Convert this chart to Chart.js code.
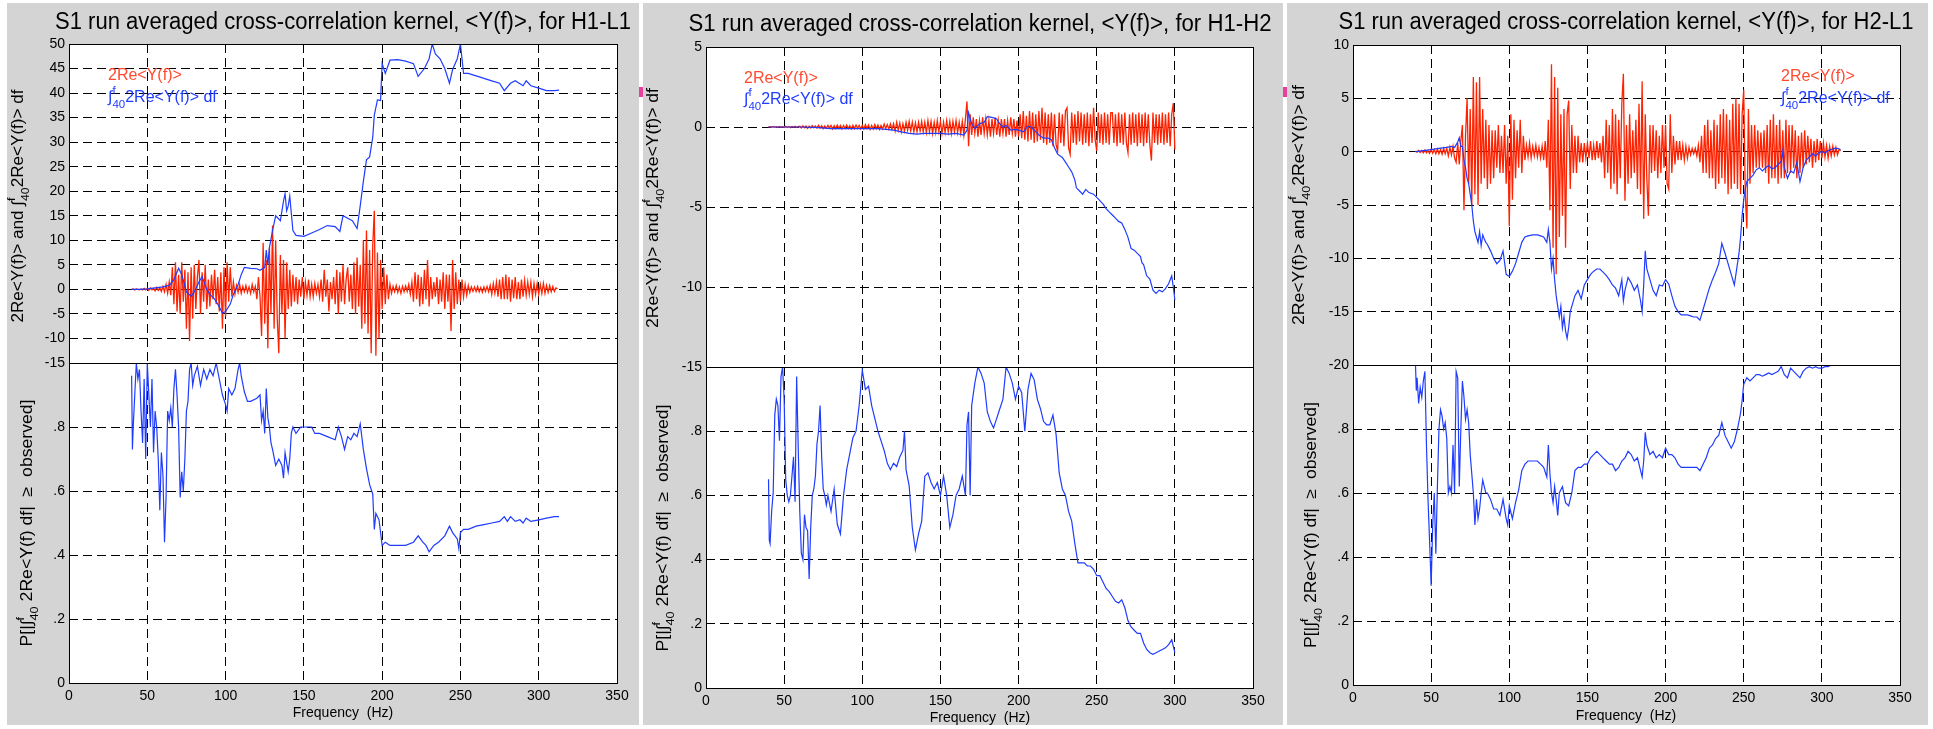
<!DOCTYPE html>
<html>
<head>
<meta charset="utf-8">
<script src="https://cdn.jsdelivr.net/npm/chart.js@4.4.1/dist/chart.umd.min.js"></script>
<style>
  html, body { margin: 0; padding: 0; background: #fff; }
  body { width: 1933px; height: 729px; position: relative; overflow: hidden; }
  .panel { position: absolute; top: 3px; height: 722px; background: #d4d4d4; }
  .mark { position: absolute; top: 87px; width: 4px; height: 10px; background: #e8409c; }
  canvas { position: absolute; left: 0; top: 0; }
</style>
</head>
<body>
<div class="panel" style="left:7px;width:632px"></div>
<div class="panel" style="left:643px;width:640px"></div>
<div class="panel" style="left:1287px;width:641px"></div>
<div class="mark" style="left:639px"></div>
<div class="mark" style="left:1283px"></div>
<script>
// ---- axes ----
const freqTicks = [0, 50, 100, 150, 200, 250, 300, 350];
const probTicks = [0, 0.2, 0.4, 0.6, 0.8, 1];
const probTickLabels = ['0', '.2', '.4', '.6', '.8', ''];
const h1l1Ticks = [-15, -10, -5, 0, 5, 10, 15, 20, 25, 30, 35, 40, 45, 50];
const h1h2Ticks = [-15, -10, -5, 0, 5];
const h2l1Ticks = [-20, -15, -10, -5, 0, 5, 10];
const pairNames = ['H1-L1', 'H1-H2', 'H2-L1'];
const redStartHz = 40;

// ---- H1-L1 ----
const h1l1Red = [
  0, 0.1, -0.1, 0.1, 0, -0.1, 0.1, -0.1, 0.2, -0.1,
  0.2, -0.2, 0.3, -0.1, 0.2, -0.3, 0.4, -0.2, 0.3, -0.4,
  0.6, -0.5, 1, -0.8, 1.5, -1.2, 4.5, -3, 5.5, -4.5,
  3, -5, 5.5, -2.5, 4, -8, 3.5, -10.5, 4.5, -6,
  5, -4, 2.5, 6, -5, 3.5, -2.5, 5, -4, 2,
  -3.5, 3, -2, 4, -3, 2.5, -4.5, 3.5, -8, 4.5,
  -5.5, 5.5, -2.5, 4.5, -1.5, 1.5, -1, 0.8, -0.6, 1,
  -0.8, 0.6, -0.5, 0.8, -0.6, 0.5, -0.8, 1, -0.5, 0.6,
  -2, 2.5, -1.5, -9.5, 9.5, -7, 6, -12, 8.5, -5,
  13, -8, 10, -6, -13, 7, -5, 6, -10, 5.5,
  -4, 4, -3.5, 3, -2.5, 2.5, -3, 2, -1.5, 2.5,
  -2, 1.5, -1.2, 2, -1.5, 1, -1.5, 1.2, -0.8, 1,
  -1.5, 2, -2.5, 4, -1.5, 2, -4.5, 1.5, -2, 2.5,
  -3, 4, -5, 3.5, -2.5, 5, -3, 2, 4.5, -2.5,
  3, -4, 5.5, -5, 6.5, -3.5, 5, -8, 10, -7,
  12, -9, 8, -13, 9, 16, -13.5, 7.5, -10, 6,
  -4, 4.5, -3, 3, -2, 1, -0.8, 0.6, -0.5, 0.8,
  -0.6, 0.5, -0.8, 0.6, -0.5, 0.7, -0.4, 1, -1, 1.5,
  -2.5, 3.5, -2, 3, -3.5, 2.5, -3, 4, -2, 6,
  -3.5, 2.5, -2, 1.5, -1.5, 2.5, -3, 2, -2.5, 3.5,
  -4, 3, -2.5, 3, -8.5, 6, -4, 3.5, -3, 2,
  -2.5, 2, -1.5, 1, -1.2, 0.8, -0.6, 0.5, -0.4, 0.5,
  -0.4, 0.6, -0.5, 0.4, -0.6, 0.5, -0.4, 0.6, -0.5, 0.8,
  -1, 1.2, -0.8, 1.5, -1.5, 2, -2, 2.5, -2, 3,
  -2, 2.5, -2.5, 2, -1.8, 2.5, -2, 1.5, -2, 2,
  -1.5, 1.8, -1.2, 1.5, -1, 1.5, -1.5, 1.2, -1, 1.2,
  -1, 1, -0.8, 1.2, -0.8, 0.8, -0.6, 0.8, -0.5, 0.6,
  -0.4, 0.3, 0.1
];
const h1l1Integral = [
  [40, 0], [45, 0], [50, 0.1], [55, 0.3], [60, 0.5], [64, 0.8], [67, 2], [70, 4.3], [72, 3], [75, -0.5],
  [78, -1.4], [80, -0.5], [83, 1.5], [85, 2.6], [88, 0], [90, -1], [93, -2], [95, -3], [98, -4.8], [100, -4.5],
  [103, -3], [105, -1], [108, 1], [110, 3], [112, 4.5], [116, 4.3], [120, 4.2], [122, 3.9], [125, 4.5], [126, 8],
  [127, 5], [128, 8.5], [130, 12], [132, 15], [135, 14], [137, 18], [138, 19.5], [139, 16], [140, 17], [141, 19],
  [143, 12], [145, 11], [150, 10.8], [155, 11.5], [160, 12.2], [165, 13], [170, 12.8], [173, 11.8], [175, 15], [178, 14.5],
  [181, 14], [184, 12.4], [186, 17], [188, 22], [190, 26.4], [192, 27], [194, 31], [195, 35.5], [197, 38.6], [199, 38.5],
  [200, 46], [202, 44], [205, 46.7], [210, 46.8], [215, 46.5], [220, 46], [223, 43.4], [227, 45], [230, 47], [232, 50],
  [234, 48], [237, 47], [240, 45], [243, 42], [245, 44.8], [248, 47], [250, 50], [252, 44], [255, 44], [260, 43.5],
  [265, 43], [270, 42.5], [275, 42], [278, 40.5], [282, 42], [285, 42.5], [290, 41.5], [292, 42.5], [295, 41.5], [300, 41],
  [305, 40.5], [310, 40.5], [313, 40.6]
];
const h1l1Prob = [
  [40, 0.96], [40.5, 0.73], [41, 0.8], [42, 0.9], [43, 1], [44, 0.95], [45, 0.98], [46, 0.85], [47, 0.75], [48, 0.95],
  [49, 0.7], [50, 1], [51, 0.9], [52, 0.8], [53, 0.95], [54, 0.72], [55, 0.85], [56, 0.8], [57, 0.7], [58, 0.54],
  [59, 0.72], [60, 0.65], [61, 0.44], [62, 0.58], [63, 0.85], [64, 0.82], [65, 0.86], [66, 0.8], [67, 0.92], [68, 0.98],
  [69, 0.9], [70, 0.8], [71, 0.58], [72, 0.66], [73, 0.6], [74, 0.7], [75, 0.85], [76, 0.88], [77, 0.98], [78, 1],
  [79, 0.93], [80, 0.96], [82, 0.99], [84, 0.93], [86, 0.98], [88, 0.95], [90, 0.98], [92, 0.96], [94, 1], [96, 0.95],
  [98, 0.9], [100, 0.87], [101, 0.85], [102, 0.92], [104, 0.9], [106, 0.92], [108, 0.98], [109, 1], [110, 0.96], [112, 0.91],
  [114, 0.88], [116, 0.88], [120, 0.89], [122, 0.9], [123, 0.82], [124, 0.85], [125, 0.78], [126, 0.92], [127, 0.83], [128, 0.8],
  [129, 0.75], [130, 0.73], [132, 0.68], [134, 0.7], [136, 0.68], [137, 0.64], [138, 0.72], [140, 0.66], [141, 0.7], [142, 0.78],
  [143, 0.8], [145, 0.78], [148, 0.8], [150, 0.8], [155, 0.8], [157, 0.78], [160, 0.78], [165, 0.77], [170, 0.76], [172, 0.8],
  [174, 0.77], [176, 0.73], [178, 0.77], [180, 0.76], [182, 0.78], [184, 0.77], [186, 0.81], [188, 0.73], [190, 0.67], [192, 0.62],
  [194, 0.59], [195, 0.48], [196, 0.53], [198, 0.51], [200, 0.43], [202, 0.44], [205, 0.43], [210, 0.43], [215, 0.43], [220, 0.44],
  [223, 0.46], [226, 0.44], [228, 0.43], [230, 0.41], [233, 0.43], [236, 0.44], [240, 0.46], [243, 0.49], [245, 0.47], [248, 0.45],
  [249, 0.42], [250, 0.47], [252, 0.48], [255, 0.48], [260, 0.49], [265, 0.495], [270, 0.5], [275, 0.505], [278, 0.52], [280, 0.505],
  [282, 0.52], [285, 0.505], [288, 0.51], [290, 0.5], [292, 0.515], [295, 0.505], [300, 0.51], [305, 0.515], [310, 0.52], [313, 0.52]
];

// ---- H1-H2 ----
const h1h2Red = [
  0, 0.02, -0.02, 0.03, -0.02, 0.02, -0.03, 0.03, -0.02, 0.02,
  -0.03, 0.04, -0.03, 0.03, -0.04, 0.03, -0.02, 0.04, -0.03, 0.03,
  0.05, -0.06, 0.07, -0.05, 0.06, -0.08, 0.05, -0.06, 0.08, -0.05,
  0.06, -0.07, 0.1, -0.06, 0.08, -0.1, 0.06, -0.08, 0.1, -0.07,
  0.1, -0.12, 0.08, -0.1, 0.12, -0.08, 0.1, -0.12, 0.1, -0.08,
  0.12, -0.1, 0.08, -0.12, 0.1, -0.1, 0.12, -0.08, 0.1, -0.12,
  0.1, -0.12, 0.15, -0.1, 0.12, -0.15, 0.1, -0.12, 0.15, -0.1,
  0.12, -0.15, 0.1, -0.12, 0.18, -0.1, 0.15, -0.12, 0.2, -0.15,
  0.2, -0.25, 0.3, -0.2, 0.25, -0.3, 0.2, -0.25, 0.3, -0.2,
  0.35, -0.25, 0.3, -0.3, 0.25, -0.3, 0.3, -0.25, 0.35, -0.3,
  0.3, -0.35, 0.4, -0.3, 0.35, -0.4, 0.3, -0.35, 0.4, -0.3,
  0.35, -0.4, 0.3, -0.35, 0.4, -0.3, 0.35, -0.4, 0.35, -0.3,
  0.4, -0.35, 0.3, -0.4, 0.35, -0.5, 0.5, 1.6, -1.2, 0.8,
  -0.5, 0.6, -0.4, 0.5, -0.6, 0.4, -0.5, 0.6, -0.4, 0.5,
  -0.5, 0.4, -0.6, 0.5, -0.4, 0.6, -0.5, 0.4, -0.6, 0.5,
  -0.4, 0.5, -0.6, 0.4, -0.5, 0.6, -0.4, 0.5, -0.6, 0.4,
  -0.6, 0.8, -0.7, 1, -0.8, 0.7, -0.9, 1, -0.8, 0.9,
  -1, 0.8, -0.9, 1, -0.8, 1.2, -1, 0.9, -1.1, 0.8,
  -1, 0.9, -1.2, 0.8, -1.1, -1.5, 0.9, -1, 0.8, -1.2,
  1, 1.2, -1.3, -1.7, 0.9, -1, 0.8, -1.1, 1, -0.9,
  0.9, -1.1, 0.8, -1, 0.9, -1.2, 0.8, -1, 1.2, -0.8,
  -1.5, 0.9, -1, 0.8, -1.1, 0.9, -1, 0.8, -1.1, 0.9,
  0.9, -1, 0.8, -1.2, 0.9, -1, 0.8, -1.1, 0.9, -1,
  -1.6, 0.8, -1.1, 0.9, -1, 0.8, -1.2, 0.9, -1, 0.8,
  -1.2, 0.9, -1, 0.8, -1.1, -2.1, 0.9, -1, 0.8, -1.1,
  0.8, -1, 0.9, -1.1, 0.8, -1, 0.9, -1.2, 0.8, 1.5,
  -1.4
];
const h1h2Integral = [
  [40, 0], [50, 0], [60, 0], [70, -0.02], [80, -0.1], [90, -0.1], [100, -0.1], [110, -0.1], [120, -0.2], [125, -0.3],
  [130, -0.4], [135, -0.45], [140, -0.4], [145, -0.4], [150, -0.4], [155, -0.45], [160, -0.4], [165, -0.5], [167, -0.2], [168, 0.9],
  [170, 0.2], [172, -0.1], [175, 0.2], [178, 0.3], [180, 0.65], [183, 0.6], [186, 0.5], [188, 0.2], [190, 0], [192, 0.1],
  [195, -0.2], [198, -0.15], [200, -0.2], [203, -0.3], [206, 0.05], [208, 0], [210, -0.2], [213, -0.5], [216, -0.7], [219, -0.7],
  [221, -0.8], [223, -1.3], [225, -1.7], [228, -1.9], [230, -2.2], [232, -2.5], [234, -2.8], [236, -3.3], [237, -3.8], [239, -4],
  [241, -4.2], [243, -3.9], [245, -4.1], [248, -4.2], [250, -4.4], [252, -4.6], [254, -4.8], [256, -5.1], [258, -5.3], [260, -5.5],
  [262, -5.7], [264, -5.9], [266, -6], [268, -6.4], [270, -6.9], [272, -7.6], [274, -7.7], [276, -7.9], [278, -8.1], [279, -8.5],
  [280, -8.6], [282, -9.3], [284, -9.5], [286, -10.2], [288, -10.4], [290, -10.2], [292, -10.3], [294, -10.1], [296, -9.8], [298, -9.3],
  [299, -10], [300, -10.8]
];
const h1h2Prob = [
  [40, 0.65], [40.5, 0.46], [41, 0.45], [42, 0.55], [43, 0.61], [44, 0.85], [45, 0.9], [46, 0.88], [47, 0.77], [48, 0.97],
  [49, 1], [50, 0.9], [51, 0.65], [52, 0.6], [53, 0.58], [54, 0.6], [55, 0.66], [56, 0.72], [57, 0.58], [58, 0.97],
  [59, 0.75], [60, 0.55], [61, 0.42], [62, 0.4], [63, 0.54], [64, 0.5], [65, 0.49], [66, 0.34], [67, 0.5], [68, 0.6],
  [69, 0.62], [70, 0.66], [71, 0.76], [72, 0.8], [73, 0.88], [74, 0.72], [75, 0.62], [76, 0.6], [77, 0.57], [78, 0.6],
  [80, 0.55], [82, 0.62], [84, 0.51], [86, 0.48], [88, 0.6], [90, 0.68], [92, 0.73], [94, 0.78], [96, 0.8], [98, 0.88],
  [100, 0.99], [102, 0.93], [104, 0.94], [106, 0.88], [108, 0.84], [110, 0.8], [112, 0.77], [114, 0.74], [116, 0.7], [118, 0.68],
  [120, 0.7], [122, 0.69], [124, 0.72], [126, 0.74], [127, 0.8], [128, 0.68], [130, 0.63], [132, 0.5], [134, 0.43], [136, 0.48],
  [138, 0.52], [140, 0.66], [142, 0.67], [144, 0.64], [146, 0.62], [148, 0.64], [150, 0.6], [152, 0.66], [154, 0.6], [156, 0.5],
  [158, 0.54], [160, 0.6], [162, 0.62], [164, 0.66], [166, 0.6], [167, 0.82], [168, 0.86], [169, 0.6], [170, 0.88], [172, 0.95],
  [174, 1], [176, 0.98], [178, 0.95], [180, 0.86], [182, 0.83], [184, 0.81], [186, 0.84], [188, 0.87], [190, 0.9], [192, 1],
  [194, 0.98], [196, 0.95], [198, 0.9], [200, 0.94], [202, 0.92], [204, 0.8], [206, 0.93], [208, 0.98], [210, 0.96], [212, 0.9],
  [214, 0.87], [216, 0.83], [218, 0.82], [220, 0.82], [222, 0.85], [224, 0.79], [226, 0.67], [228, 0.62], [230, 0.6], [232, 0.55],
  [234, 0.52], [236, 0.45], [238, 0.39], [240, 0.39], [242, 0.39], [244, 0.38], [246, 0.38], [248, 0.37], [250, 0.35], [252, 0.35],
  [254, 0.33], [256, 0.31], [258, 0.3], [260, 0.285], [262, 0.27], [264, 0.265], [266, 0.275], [268, 0.25], [270, 0.21], [272, 0.19],
  [274, 0.18], [276, 0.17], [278, 0.17], [280, 0.14], [282, 0.12], [284, 0.11], [286, 0.105], [288, 0.11], [290, 0.115], [292, 0.12],
  [294, 0.125], [296, 0.135], [298, 0.15], [300, 0.11]
];

// ---- H2-L1 ----
const h2l1Red = [
  0.05, -0.05, 0.1, -0.08, 0.1, -0.1, 0.15, -0.1, 0.1, -0.15,
  0.2, -0.15, 0.2, -0.2, 0.25, -0.2, 0.2, -0.25, 0.3, -0.2,
  0.3, -0.4, 0.4, -0.3, 0.5, -0.6, -1, 0.8, -1.2, 1,
  2.5, -5.5, 1.5, 5, -3, 4, -5, 7, -4, 6.5,
  -5, 7, -3, 4, -2.5, 3, -3.5, 2.5, -3, 2,
  -2.5, 2, -1.5, 2.5, -2, 1.5, -2, 2.5, -3, 1.5,
  -7, 3.5, -4.5, 3, -2.5, 2, -1.5, 3, -2, 1.5,
  -0.8, 0.6, -0.5, 0.8, -0.6, 0.5, -0.4, 0.6, -0.5, 0.4,
  -0.6, 0.5, -0.8, 1, -1.5, 3, -5.5, 8.2, -9, 7,
  -11.5, 6, -8, 3.5, -6, 4, -9, 3.5, 4.8, -3.5,
  2.5, -2, 1.5, -2, 1.5, -1, 0.8, -1, 0.8, -0.6,
  0.8, -0.6, 1, -0.8, 0.6, -0.8, 1, -0.6, 0.8, -1,
  1.5, -2.5, 3, -2, 2.5, -3.5, 4, -3, 3.5, -4,
  3, -2.5, 4.5, 7.3, -4.6, 2.5, -3, 3.5, -2.5, 2,
  -2, 3, -3.5, 4.5, -4, 6.6, -6.3, 3.5, -2.5, -6,
  2.5, -2, 2.5, -1.8, 2, -2.5, 1.5, -2, 2.5, -1.5,
  2.5, -3, -3.5, 3.5, -2, 1.5, -1.2, 1, -0.8, 1,
  -0.8, 0.6, -0.8, 0.5, -0.6, 0.4, -0.3, 0.3, -0.2, 0.3,
  -0.4, 0.6, -1, 1.5, -2, 2.5, -2, 3, -2.5, 2,
  -2.5, 3, -3.5, 2.5, -3, 3.5, -2.5, 4, -3, 3.5,
  -4, 3, -3.5, 4.5, -3, 5, -3.5, 4.5, -4, 3.5,
  5.8, -4, -7.2, 4, -3, 2.5, -2, 2.5, -1.5, 2,
  -1.5, 1.8, -1.5, 2, -2, 2.5, -3, 3, -2.5, 3.5,
  -2.5, 2.5, -3, 3, -2.5, 2, -2.5, 3, -2, 2.5,
  -2, 2.5, -1.5, 2, -2.5, 1.5, -2, 1.8, -1.5, 2,
  -1.2, 1.5, -1, 1.2, -1.5, 1, -1, 1.2, -0.8, 1,
  -0.6, 0.8, -0.5, 0.6, -0.6, 0.5, -0.4, 0.5, -0.3, 0.4,
  -0.3, 0.2, 0.1
];
const h2l1Integral = [
  [40, 0], [45, 0.1], [50, 0.2], [55, 0.3], [60, 0.4], [63, 0.5], [65, 0.4], [67, 0.9], [68, 1.3], [69, 0.5],
  [70, 0.5], [71, -0.8], [72, -1.5], [73, -2.5], [74, -3], [75, -4], [76, -5], [77, -6.5], [78, -7.5], [79, -8],
  [80, -8.5], [81, -7.5], [82, -8.8], [83, -7.8], [84, -8.2], [85, -8.5], [86, -8.7], [88, -9.3], [90, -10], [92, -10.5],
  [94, -10.2], [96, -9.3], [98, -11.5], [100, -11.7], [102, -11.2], [104, -10.5], [106, -9.5], [108, -8.5], [110, -8], [112, -7.9],
  [115, -7.8], [118, -7.8], [120, -7.9], [122, -8], [124, -8.5], [125, -7.3], [126, -8.5], [127, -11], [128, -10], [129, -12],
  [130, -13.5], [131, -14.5], [132, -15.5], [133, -14.5], [134, -16.5], [135, -15.5], [136, -16.8], [137, -17.5], [138, -16.5], [139, -15],
  [140, -14.5], [142, -13.5], [144, -13], [146, -13.8], [148, -12.5], [150, -12], [152, -11.5], [154, -11.2], [156, -11], [158, -11],
  [160, -11.3], [162, -11.6], [164, -12], [166, -12.5], [168, -12.8], [170, -13.5], [172, -12], [173, -14], [174, -13], [176, -11.8],
  [178, -12.3], [180, -13], [182, -12.5], [184, -14], [185, -15], [186, -12.5], [187, -9.3], [188, -11], [190, -12], [192, -13],
  [194, -13.5], [196, -12.5], [198, -12.6], [200, -12], [202, -12.4], [204, -13.5], [206, -14.5], [208, -15], [210, -15.3], [212, -15.3],
  [214, -15.3], [216, -15.4], [218, -15.5], [220, -15.5], [222, -15.8], [224, -14.8], [226, -13.8], [228, -12.8], [230, -12], [232, -11.3],
  [234, -10.5], [236, -8.6], [238, -9.5], [240, -10.5], [242, -11.5], [244, -12.5], [245, -11.5], [246, -10.5], [247, -9.5], [248, -8],
  [249, -6], [250, -4.5], [251, -3.5], [252, -2.8], [254, -2.5], [256, -2.2], [258, -1.7], [260, -1.5], [262, -1.8], [264, -1.5],
  [266, -1.3], [268, -1.6], [270, -1.5], [272, -1.2], [274, -0.9], [275, 0], [276, -1.5], [278, -2.5], [280, -1.8], [282, -2],
  [284, -1], [286, -2.8], [288, -1.5], [290, -0.8], [292, -0.5], [294, -0.2], [296, -0.4], [298, -0.1], [300, 0], [302, -0.1],
  [304, 0.1], [306, 0.2], [308, 0.3], [310, 0.3], [312, 0.2]
];
const h2l1Prob = [
  [40, 1], [40.5, 0.92], [41, 0.96], [42, 0.88], [43, 0.93], [44, 0.9], [45, 0.95], [46, 0.98], [47, 0.75], [48, 0.58],
  [49, 0.45], [50, 0.31], [51, 0.5], [52, 0.6], [53, 0.41], [54, 0.62], [55, 0.8], [56, 0.86], [57, 0.84], [58, 0.8],
  [59, 0.82], [60, 0.77], [61, 0.6], [62, 0.62], [63, 0.6], [64, 0.75], [65, 0.6], [66, 0.98], [67, 0.96], [68, 0.62],
  [69, 0.8], [70, 0.95], [71, 0.9], [72, 0.83], [73, 0.86], [74, 0.82], [75, 0.72], [76, 0.66], [77, 0.6], [78, 0.5],
  [79, 0.58], [80, 0.52], [81, 0.55], [82, 0.6], [83, 0.64], [84, 0.62], [85, 0.6], [86, 0.6], [88, 0.58], [90, 0.55],
  [92, 0.55], [94, 0.53], [96, 0.58], [98, 0.52], [99, 0.5], [100, 0.56], [102, 0.52], [104, 0.57], [106, 0.61], [108, 0.67],
  [110, 0.69], [112, 0.7], [115, 0.7], [118, 0.7], [120, 0.69], [122, 0.68], [124, 0.65], [125, 0.75], [126, 0.66], [127, 0.6],
  [128, 0.57], [129, 0.62], [130, 0.58], [131, 0.53], [132, 0.6], [134, 0.62], [136, 0.57], [138, 0.56], [140, 0.6], [142, 0.67],
  [144, 0.68], [146, 0.68], [148, 0.69], [150, 0.69], [152, 0.71], [154, 0.72], [156, 0.73], [158, 0.72], [160, 0.71], [162, 0.7],
  [164, 0.69], [166, 0.69], [168, 0.67], [170, 0.68], [172, 0.7], [174, 0.71], [176, 0.73], [178, 0.72], [180, 0.7], [182, 0.71],
  [184, 0.67], [185, 0.65], [186, 0.7], [187, 0.79], [188, 0.75], [190, 0.72], [192, 0.73], [194, 0.71], [196, 0.72], [198, 0.71],
  [200, 0.74], [202, 0.72], [204, 0.72], [206, 0.71], [208, 0.69], [210, 0.68], [215, 0.68], [220, 0.68], [222, 0.67], [224, 0.69],
  [226, 0.71], [228, 0.74], [230, 0.75], [232, 0.77], [234, 0.78], [236, 0.82], [238, 0.78], [240, 0.76], [242, 0.74], [244, 0.76],
  [246, 0.8], [248, 0.85], [249, 0.89], [250, 0.94], [252, 0.96], [254, 0.95], [256, 0.96], [258, 0.97], [260, 0.97], [262, 0.965],
  [264, 0.97], [266, 0.975], [268, 0.97], [270, 0.975], [272, 0.98], [274, 0.995], [276, 0.97], [278, 0.96], [280, 0.99], [282, 0.98],
  [284, 0.97], [286, 0.96], [288, 0.98], [290, 0.99], [292, 0.995], [294, 0.99], [296, 0.995], [298, 0.99], [300, 0.99], [302, 0.995],
  [304, 0.995], [306, 1], [310, 1], [312, 1]
];

// ---- look ----
const W = 1933, H = 729;
const FAMILY = "'Liberation Sans', Arial, Helvetica, sans-serif";
const RED = '#ff2200', BLUE = '#1f3cff', LEG_RED = '#ff4a30';
const GRID_DASH = [9, 5];
const Y_AXIS_W = 44, X_AXIS_H = 30;

// where each panel's two axes boxes sit (pixels)
const layouts = [
  { L: 69, R: 617, T: 44, M: 363, B: 683, title: { x: 343, y: 23, w: 576 }, xTitle: { x: 343, y: 713 },
    upT: { x: 19, y: 206, len: 233 }, loT: { x: 28, y: 523, len: 247 }, leg: { x: 108, y1: 76, y2: 98 } },
  { L: 706, R: 1253, T: 47, M: 367, B: 688, title: { x: 980, y: 25, w: 583 }, xTitle: { x: 980, y: 718 },
    upT: { x: 654, y: 208, len: 240 }, loT: { x: 664, y: 528, len: 247 }, leg: { x: 744, y1: 79, y2: 100 } },
  { L: 1353, R: 1900, T: 45, M: 365, B: 685, title: { x: 1626, y: 23, w: 575 }, xTitle: { x: 1626, y: 716 },
    upT: { x: 1300, y: 205, len: 240 }, loT: { x: 1312, y: 525, len: 246 }, leg: { x: 1781, y1: 77, y2: 99 } },
];

const upperTitle = [['2Re<Y(f)> and \u222B'], ['f', '40'], ['2Re<Y(f)> df']];
const lowerTitle = [['P[|\u222B'], ['f', '40'], [' 2Re<Y(f) df|  \u2265  observed]']];
const legendRed = [['2Re<Y(f)>']];
const legendBlue = [['\u222B'], ['f', '40'], ['2Re<Y(f)> df']];

const font = (s) => `${s}px ${FAMILY}`;

// text with stacked super/subscript pieces: one-element part = plain, two-element = [sup, sub]
function richText(ctx, parts, o) {
  const small = o.size * 0.72;
  const widths = parts.map((p) => {
    if (p.length === 1) { ctx.font = font(o.size); return ctx.measureText(p[0]).width; }
    ctx.font = font(small);
    return Math.max(ctx.measureText(p[0]).width, ctx.measureText(p[1]).width);
  });
  const total = widths.reduce((a, b) => a + b, 0);
  ctx.save();
  ctx.translate(o.x, o.y);
  if (o.rotate) ctx.rotate(-Math.PI / 2);
  const sx = o.len ? o.len / total : 1;
  ctx.scale(sx, 1);
  ctx.fillStyle = o.color || '#000';
  ctx.textBaseline = 'middle';
  ctx.textAlign = 'left';
  let x = o.align === 'left' ? 0 : -total / 2;
  parts.forEach((p, i) => {
    if (p.length === 1) {
      ctx.font = font(o.size);
      ctx.fillText(p[0], x, 0);
    } else {
      ctx.font = font(small);
      ctx.fillText(p[0], x, -o.size * 0.42);
      ctx.fillText(p[1], x, o.size * 0.4);
    }
    x += widths[i];
  });
  ctx.restore();
}

const deco = {
  id: 'deco',
  beforeDraw(chart) {
    const { ctx, chartArea: a } = chart;
    ctx.save();
    ctx.fillStyle = '#fff';
    ctx.fillRect(a.left, a.top, a.right - a.left, a.bottom - a.top);
    ctx.restore();
  },
  afterDraw(chart, args, o) {
    const { ctx, chartArea: a } = chart;
    ctx.save();
    ctx.strokeStyle = '#000';
    ctx.lineWidth = 1;
    ctx.strokeRect(Math.round(a.left) + 0.5, Math.round(a.top) + 0.5, Math.round(a.right - a.left), Math.round(a.bottom - a.top));
    ctx.restore();
    const lay = o.lay;
    if (o.part === 'upper') {
      ctx.save();
      ctx.font = font(23);
      const txt = `S1 run averaged cross-correlation kernel, <Y(f)>, for ${o.pair}`;
      const w = ctx.measureText(txt).width;
      ctx.translate(lay.title.x, lay.title.y);
      ctx.scale(lay.title.w / w, 1);
      ctx.fillStyle = '#000';
      ctx.textAlign = 'center';
      ctx.textBaseline = 'middle';
      ctx.fillText(txt, 0, 0);
      ctx.restore();
      richText(ctx, upperTitle, { x: lay.upT.x, y: lay.upT.y, size: 16, rotate: true, len: lay.upT.len });
      richText(ctx, legendRed, { x: lay.leg.x, y: lay.leg.y1, size: 16, align: 'left', color: LEG_RED });
      richText(ctx, legendBlue, { x: lay.leg.x, y: lay.leg.y2, size: 16, align: 'left', color: BLUE });
    } else {
      richText(ctx, lowerTitle, { x: lay.loT.x, y: lay.loT.y, size: 16, rotate: true, len: lay.loT.len });
      ctx.save();
      ctx.font = font(14);
      ctx.fillStyle = '#000';
      ctx.textAlign = 'center';
      ctx.textBaseline = 'middle';
      ctx.fillText('Frequency  (Hz)', lay.xTitle.x, lay.xTitle.y);
      ctx.restore();
    }
  }
};

function axisFrom(values) {
  return (scale) => { scale.ticks = values.map((v) => ({ value: v })); };
}

function makeChart(lay, part, pair, datasets, yTicks, yLabel) {
  const cv = document.createElement('canvas');
  cv.width = W; cv.height = H;
  document.body.appendChild(cv);
  const top = part === 'upper' ? lay.T : lay.M;
  const bottom = part === 'upper' ? lay.M : lay.B;
  const xH = part === 'upper' ? 0 : X_AXIS_H;
  return new Chart(cv, {
    type: 'line',
    data: { datasets },
    plugins: [deco],
    options: {
      responsive: false,
      devicePixelRatio: 1,
      animation: false,
      events: [],
      parsing: false,
      normalized: true,
      layout: { padding: { left: lay.L - Y_AXIS_W, right: W - lay.R, top, bottom: H - bottom - xH } },
      elements: { point: { radius: 0 }, line: { borderWidth: 1, tension: 0 } },
      plugins: { legend: { display: false }, tooltip: { enabled: false }, deco: { lay, part, pair } },
      scales: {
        x: {
          type: 'linear', min: 0, max: 350,
          afterBuildTicks: axisFrom(freqTicks),
          afterFit: (s) => { s.height = xH; },
          grid: { color: '#000', lineWidth: 1, drawTicks: false },
          border: { display: false, dash: GRID_DASH },
          ticks: {
            display: part === 'lower', padding: 5, color: '#000', maxRotation: 0, autoSkip: false,
            font: { family: FAMILY, size: 14 },
            callback: (v) => String(v)
          }
        },
        y: {
          type: 'linear', min: yTicks[0], max: yTicks[yTicks.length - 1],
          afterBuildTicks: axisFrom(yTicks),
          afterFit: (s) => { s.width = Y_AXIS_W; },
          grid: { color: '#000', lineWidth: 1, drawTicks: false },
          border: { display: false, dash: GRID_DASH },
          ticks: {
            padding: 4, color: '#000', autoSkip: false,
            font: { family: FAMILY, size: 14 },
            callback: (v) => yLabel(v)
          }
        }
      }
    }
  });
}

const toXY = (pairs) => pairs.map(([x, y]) => ({ x, y }));
const redXY = (vals) => vals.map((y, i) => ({ x: redStartHz + i, y }));

const series = [
  { red: h1l1Red, integ: h1l1Integral, prob: h1l1Prob, ticks: h1l1Ticks },
  { red: h1h2Red, integ: h1h2Integral, prob: h1h2Prob, ticks: h1h2Ticks },
  { red: h2l1Red, integ: h2l1Integral, prob: h2l1Prob, ticks: h2l1Ticks },
];

series.forEach((s, i) => {
  const lay = layouts[i];
  makeChart(lay, 'upper', pairNames[i], [
    { data: toXY(s.integ), borderColor: BLUE, borderWidth: 1.2 },
    { data: redXY(s.red), borderColor: RED, borderWidth: 1.3 },
  ], s.ticks, (v) => String(v));
  makeChart(lay, 'lower', pairNames[i], [
    { data: toXY(s.prob), borderColor: BLUE, borderWidth: 1.2 },
  ], probTicks, (v) => probTickLabels[probTicks.indexOf(v)] ?? '');
});
</script>
</body>
</html>
